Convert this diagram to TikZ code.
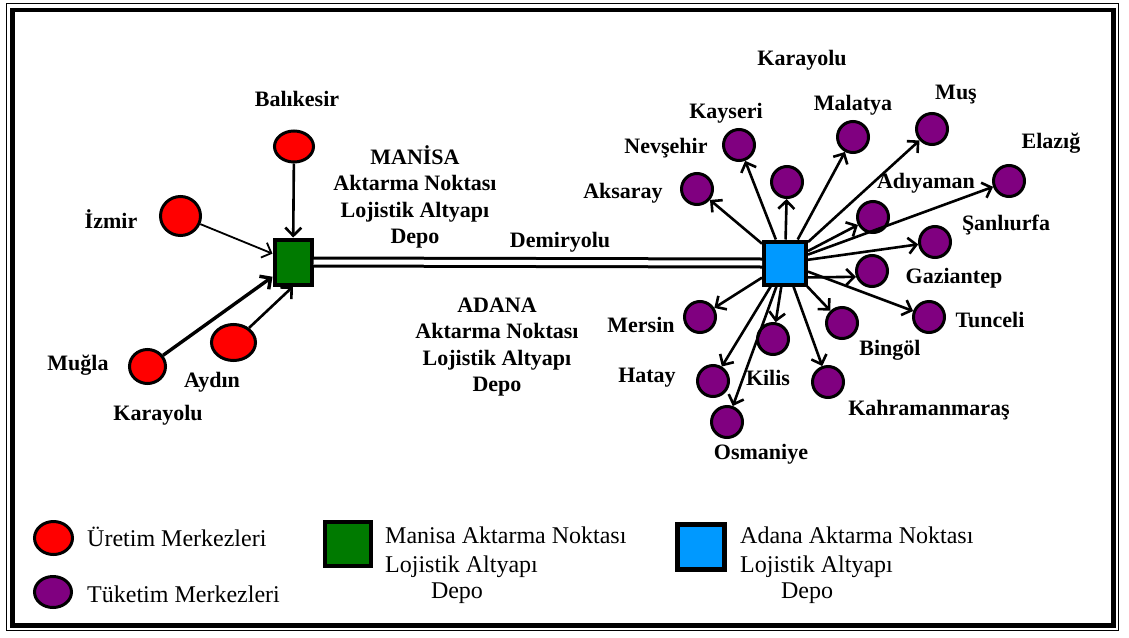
\documentclass[tikz,border=0pt]{standalone}
\usepackage{fontspec}
\setmainfont{Liberation Serif}
\usetikzlibrary{arrows.meta,shapes.geometric}
\definecolor{uretim}{RGB}{255,0,0}
\definecolor{tuketim}{RGB}{128,0,128}
\definecolor{manisagreen}{RGB}{0,122,0}
\definecolor{adanablue}{RGB}{0,153,255}
\begin{document}
\begin{tikzpicture}[x=1pt,y=-1pt,
  city/.style={font=\fontsize{22}{24}\selectfont\bfseries, inner sep=0pt},
  hubtext/.style={font=\fontsize{22}{26.5}\selectfont\bfseries, align=center, inner sep=0pt},
  legtext/.style={font=\fontsize{24}{26}\selectfont, inner sep=0pt},
  prod/.style={ellipse, draw, line width=3pt, fill=uretim, inner sep=0pt},
  cons/.style={ellipse, draw, line width=3pt, fill=tuketim, inner sep=0pt,
               minimum width=31pt, minimum height=31pt},
  hub/.style={rectangle, draw, line width=4pt, inner sep=0pt},
  road/.style={line width=2.6pt, -{Straight Barb[length=8pt,width=16pt]}},
  rail/.style={double, double distance=5pt, line width=3pt}
]
\useasboundingbox (0,0) rectangle (1129,637);

% frame
\draw[line width=1.2pt] (6.5,3.5) rectangle (1118.5,630.5);
\draw[line width=4.5pt] (12.5,10) rectangle (1113.5,625.5);

% transfer hubs
\node[hub, fill=manisagreen, minimum width=37pt, minimum height=45pt] (manisa) at (293,262) {};
\node[hub, fill=adanablue, minimum width=42pt, minimum height=43pt] (adana) at (785,263) {};

% production centres
\node[prod, minimum width=39pt, minimum height=31pt] (balikesir) at (294,146.5) {};
\node[prod, minimum width=40pt, minimum height=39pt] (izmir) at (180.5,216) {};
\node[prod, minimum width=36pt, minimum height=34pt] (mugla) at (147.5,366.5) {};
\node[prod, minimum width=44pt, minimum height=36pt] (aydin) at (233.5,342.5) {};

\node[city] (lbalikesir) at (297,99) {Balıkesir};
\node[city] (lizmir) at (111,219) {İzmir};
\node[city] (lmugla) at (78,365) {Muğla};
\node[city] (laydin) at (212,382) {Aydın};
\node[city] (lkarayolu1) at (158,415) {Karayolu};

% consumption centres
\node[cons] (aksaray) at (697,189) {};
\node[cons] (kayseri) at (739,145) {};
\node[cons] (orta) at (787,182) {};
\node[cons] (malatya) at (853,137) {};
\node[cons] (mus) at (932,129) {};
\node[cons] (elazig) at (1009,181) {};
\node[cons] (adiyaman) at (873,217) {};
\node[cons] (sanliurfa) at (935,242) {};
\node[cons] (gaziantep) at (872,271) {};
\node[cons] (tunceli) at (929,317) {};
\node[cons] (bingol) at (842,323) {};
\node[cons] (kahraman) at (828,382) {};
\node[cons] (kilis) at (773,339) {};
\node[cons] (hatay) at (713,381) {};
\node[cons] (osmaniye) at (727,422) {};
\node[cons] (mersin) at (700,317) {};

\node[city] (lkarayolu2) at (802,60) {Karayolu};
\node[city] (lkayseri) at (726,113) {Kayseri};
\node[city] (lnevsehir) at (666,148) {Nevşehir};
\node[city] (laksaray) at (623,193) {Aksaray};
\node[city] (lmalatya) at (853,105) {Malatya};
\node[city] (lmus) at (956,95) {Muş};
\node[city] (lelazig) at (1051,143) {Elazığ};
\node[city] (ladiyaman) at (926,183) {Adıyaman};
\node[city] (lsanliurfa) at (1006,225) {Şanlıurfa};
\node[city] (lgaziantep) at (954,278) {Gaziantep};
\node[city] (ltunceli) at (990,320) {Tunceli};
\node[city] (lbingol) at (890,350) {Bingöl};
\node[city] (lkahraman) at (929,410) {Kahramanmaraş};
\node[city] (lkilis) at (768,378) {Kilis};
\node[city] (lhatay) at (647,378) {Hatay};
\node[city] (losmaniye) at (761,454) {Osmaniye};
\node[city] (lmersin) at (641,325) {Mersin};

% hub captions
\node[hubtext] (manisatext) at (415,197) {MANİSA\\Aktarma Noktası\\Lojistik Altyapı\\Depo};
\node[hubtext] (adanatext) at (497,347) {ADANA\\Aktarma Noktası\\Lojistik Altyapı\\Depo};
\node[city] (ldemiryolu) at (560,242) {Demiryolu};

% railway
\draw[rail] (manisa.east) -- (adana.west);

% roads into Manisa
\draw[road] (balikesir) -- (manisa);
\draw[road, line width=1.8pt] (izmir) -- (manisa);
\draw[road, line width=3.4pt] (mugla) -- (manisa);
\draw[road] (aydin) -- (manisa.south);

% roads out of Adana
\foreach \t in {aksaray,kayseri,orta,malatya,mus,elazig,adiyaman,sanliurfa,
                tunceli,bingol,kahraman,kilis,osmaniye,hatay,mersin}
  \draw[road] (adana) -- (\t);
\draw[road] (adana.-32) -- (gaziantep.200);

% legend
\node[prod, minimum width=38pt, minimum height=33pt] (legprod) at (53.5,538) {};
\node[legtext, anchor=west] (legprodtext) at (87,537) {Üretim Merkezleri};
\node[cons, minimum width=37pt, minimum height=31pt] (legcons) at (53,592) {};
\node[legtext, anchor=west] (legconstext) at (87,594) {Tüketim Merkezleri};

\node[hub, fill=manisagreen, minimum width=46pt, minimum height=44pt] (legmanisa) at (348,544) {};
\node[legtext, anchor=west] (legmanisa1) at (385,535) {Manisa Aktarma Noktası};
\node[legtext, anchor=west] (legmanisa2) at (385,567) {Lojistik Altyapı};
\node[legtext] (legmanisa3) at (457,593) {Depo};

\node[hub, fill=adanablue, line width=5pt, minimum width=47pt, minimum height=45pt] (legadana) at (701,547) {};
\node[legtext, anchor=west] (legadana1) at (740,535) {Adana Aktarma Noktası};
\node[legtext, anchor=west] (legadana2) at (740,567) {Lojistik Altyapı};
\node[legtext] (legadana3) at (807,593) {Depo};
\end{tikzpicture}
\end{document}
